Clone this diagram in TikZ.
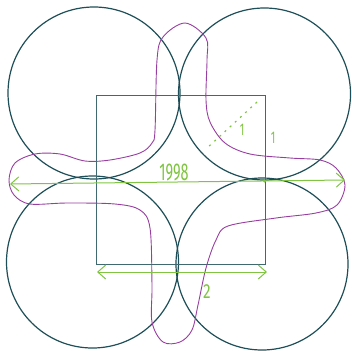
\documentclass[tikz,border=0pt]{standalone}
\usepackage{graphicx}
\usepackage{fontspec}
\setsansfont{Fira Sans}
\usetikzlibrary{arrows.meta}
\definecolor{circ}{RGB}{30,78,88}
\definecolor{sq}{RGB}{62,105,112}
\definecolor{pur}{RGB}{152,62,160}
\definecolor{grn}{RGB}{128,196,66}
\tikzset{
  circle line/.style={draw=circ, line width=1.2pt},
  square line/.style={draw=sq, line width=0.9pt},
  path line/.style={draw=pur, line width=0.9pt},
  meas/.style={draw=grn, line width=1pt, {Straight Barb[length=8pt,width=14pt]}-{Straight Barb[length=8pt,width=14pt]}},
  hand/.style={text=grn, font=\sffamily, inner sep=0pt},
}
\begin{document}
\begin{tikzpicture}[x=1pt,y=-1pt]
\useasboundingbox (0,0) rectangle (352,350);
% circles
\draw[circle line] (94,93) circle (86);
\draw[circle line] (264.5,94) circle (86);
\draw[circle line] (92.5,262) circle (86);
\draw[circle line] (262,264) circle (86);
% square
\draw[square line] (96.5,95) rectangle (265,264);
% purple loop
\draw[path line] plot[smooth cycle, tension=0.55] coordinates {
 (155,130) (157,60) (163,37) (185,23) (206,38) (207,60) (206,100) (210,122)
 (225,143) (250,154) (290,158) (320,160) (336,168) (345,185) (337,205)
 (316,213) (276,218) (228,226) (216,240) (206,268) (198,305) (192,330)
 (180,342) (163,342) (152,322) (152,285) (150,228) (140,210) (115,204)
 (67,203) (30,204) (14,195) (9,180) (15,163) (35,154) (60,154) (85,161)
 (110,160) (140,153) (152,143)};
% green measures
\coordinate (hl) at (10,184);
\coordinate (hr) at (345,180);
\draw[meas] (hl) -- (hr);
\coordinate (bl) at (97,272);
\coordinate (br) at (267,272);
\draw[meas] (bl) -- (br);
\coordinate (d1) at (257,102);
\coordinate (d2) at (206,149);
\draw[draw=grn, line width=1.2pt, dash pattern=on 2pt off 5pt] (d1) -- (d2);
\fill[grn] (264.5,181) circle (1.6);
\node[hand] (t1998) at (174,173) {\scalebox{0.8}[1.35]{\fontsize{18}{18}\selectfont 1998}};
\node[hand] (t2) at (207,292) {\scalebox{0.9}[1.2]{\fontsize{17}{17}\selectfont 2}};
\node[hand] (ta) at (242,130) {\scalebox{0.8}[1.3]{\fontsize{13}{13}\selectfont 1}};
\node[hand] (tb) at (273,138) {\scalebox{0.8}[1.3]{\fontsize{13}{13}\selectfont 1}};
\end{tikzpicture}
\end{document}
